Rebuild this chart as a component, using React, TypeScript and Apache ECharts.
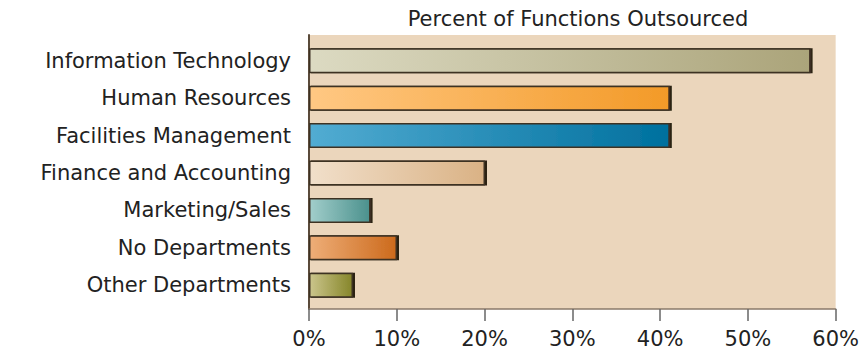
import React, { useEffect, useRef } from "react";
import * as echarts from "echarts";

const categories = [
  "Information Technology",
  "Human Resources",
  "Facilities Management",
  "Finance and Accounting",
  "Marketing/Sales",
  "No Departments",
  "Other Departments",
];
const values = [57, 41, 41, 20, 7, 10, 5];
const lightColors = ["#dcdac2", "#ffc883", "#52acd2", "#f1dfca", "#a2cecb", "#eeae78", "#cbc58c"];
const darkColors = ["#aba47a", "#f39a28", "#00709e", "#dab285", "#4b918d", "#cc6a1c", "#86862a"];
const xTicks = [0, 10, 20, 30, 40, 50, 60];
const titleText = "Percent of Functions Outsourced";

export default function App() {
  const ref = useRef<HTMLDivElement>(null);
  useEffect(() => {
    if (!ref.current) return;
    const chart = echarts.init(ref.current, null, { renderer: "svg" });
    const font = "'DejaVu Sans', sans-serif";
    chart.setOption({
      animation: false,
      backgroundColor: "#ffffff",
      title: {
        text: titleText,
        left: 573,
        top: 3,
        textAlign: "center",
        textStyle: { fontFamily: font, fontSize: 21, fontWeight: "normal", color: "#222" },
      },
      grid: [
        { left: 309, right: 25, top: 35, bottom: 42, show: true, backgroundColor: "#ebd6bc", borderWidth: 0 },
        { left: 309, right: 25, top: 42, bottom: 47 },
      ],
      xAxis: [
        {
          gridIndex: 0,
          type: "value",
          min: xTicks[0],
          max: xTicks[xTicks.length - 1],
          interval: 10,
          axisLine: { show: true, lineStyle: { color: "#8a7a6a", width: 1.5 } },
          axisTick: { show: true, length: 12, lineStyle: { color: "#666", width: 1.5 } },
          axisLabel: { formatter: "{value}%", fontFamily: font, fontSize: 21, color: "#222", margin: 19 },
          splitLine: { show: false },
        },
        { gridIndex: 1, type: "value", min: 0, max: 60, show: false },
      ],
      yAxis: [
        {
          gridIndex: 0,
          type: "category",
          data: [""],
          axisLine: { show: true, lineStyle: { color: "#5a4a3a", width: 2 } },
          axisTick: { show: false },
          axisLabel: { show: false },
        },
        {
          gridIndex: 1,
          type: "category",
          inverse: true,
          data: categories,
          axisLine: { show: false },
          axisTick: { show: false },
          axisLabel: { fontFamily: font, fontSize: 21, color: "#222", margin: 18 },
        },
      ],
      series: [
        {
          type: "bar",
          xAxisIndex: 1,
          yAxisIndex: 1,
          barWidth: 25,
          data: values.map((v, i) => ({
            value: v,
            itemStyle: {
              color: new echarts.graphic.LinearGradient(0, 0, 1, 0, [
                { offset: 0, color: lightColors[i] },
                { offset: 1, color: darkColors[i] },
              ]),
              borderColor: "#3e3024",
              borderWidth: 1.5,
              shadowColor: "rgba(20,10,0,0.9)",
              shadowOffsetX: 2,
              shadowBlur: 0,
            },
          })),
        },
      ],
    });
    return () => chart.dispose();
  }, []);
  return <div ref={ref} style={{ position: "fixed", left: 0, top: 0, width: 862, height: 351 }} />;
}
